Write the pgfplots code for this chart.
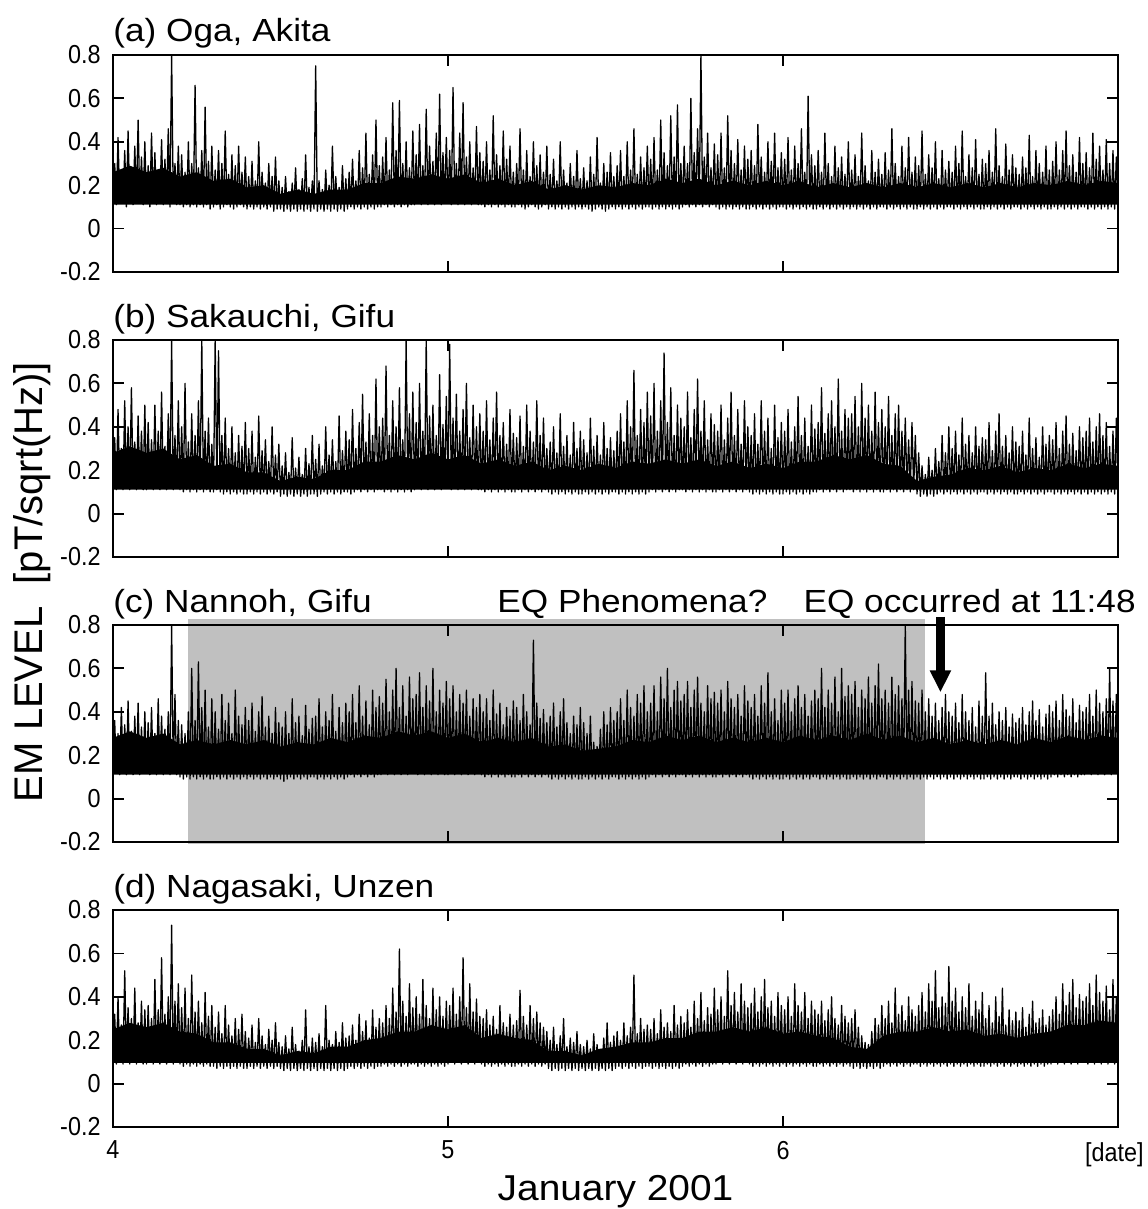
\documentclass[border=0pt]{standalone}
\usepackage{fontspec}
\setmainfont{Liberation Sans}
\usepackage{graphicx}
\usepackage{pgfplots}
\pgfplotsset{compat=1.18}
\usepackage{pgfplotstable}
\usetikzlibrary{arrows.meta}
\definecolor{shade}{RGB}{192,192,192}
\newcommand{\tl}[1]{\scalebox{0.9}[1]{#1}}

\pgfplotstableread[row sep=\\]{
y\\
0.12\\0.30\\0.11\\0.42\\0.13\\0.26\\0.12\\0.36\\0.10\\0.45\\0.12\\0.28\\0.11\\0.38\\0.13\\0.50\\0.12\\0.33\\0.11\\0.40\\
0.12\\0.29\\0.10\\0.44\\0.12\\0.35\\0.11\\0.27\\0.12\\0.41\\0.11\\0.32\\0.12\\0.46\\0.10\\0.80\\0.12\\0.30\\0.11\\0.38\\
0.11\\0.34\\0.10\\0.26\\0.11\\0.40\\0.10\\0.30\\0.11\\0.66\\0.10\\0.28\\0.11\\0.36\\0.10\\0.56\\0.11\\0.31\\0.09\\0.38\\
0.10\\0.27\\0.11\\0.36\\0.09\\0.30\\0.10\\0.45\\0.11\\0.25\\0.10\\0.34\\0.09\\0.29\\0.10\\0.38\\0.11\\0.26\\0.10\\0.33\\
0.09\\0.24\\0.10\\0.31\\0.09\\0.22\\0.10\\0.40\\0.09\\0.26\\0.10\\0.21\\0.09\\0.30\\0.10\\0.24\\0.08\\0.33\\0.09\\0.22\\
0.09\\0.19\\0.08\\0.24\\0.09\\0.17\\0.08\\0.21\\0.09\\0.28\\0.08\\0.18\\0.09\\0.23\\0.08\\0.34\\0.09\\0.19\\0.08\\0.22\\
0.09\\0.75\\0.08\\0.22\\0.09\\0.18\\0.08\\0.27\\0.09\\0.20\\0.08\\0.38\\0.09\\0.24\\0.08\\0.19\\0.09\\0.29\\0.08\\0.23\\
0.09\\0.26\\0.10\\0.32\\0.09\\0.22\\0.10\\0.36\\0.09\\0.28\\0.10\\0.44\\0.09\\0.25\\0.10\\0.34\\0.09\\0.50\\0.10\\0.29\\
0.10\\0.33\\0.11\\0.42\\0.10\\0.27\\0.11\\0.58\\0.10\\0.36\\0.11\\0.59\\0.10\\0.30\\0.11\\0.40\\0.10\\0.28\\0.11\\0.45\\
0.11\\0.34\\0.12\\0.48\\0.11\\0.29\\0.12\\0.55\\0.11\\0.38\\0.12\\0.31\\0.11\\0.44\\0.12\\0.62\\0.11\\0.35\\0.12\\0.42\\
0.12\\0.36\\0.11\\0.65\\0.12\\0.30\\0.11\\0.44\\0.12\\0.58\\0.11\\0.33\\0.12\\0.40\\0.11\\0.28\\0.12\\0.47\\0.11\\0.35\\
0.11\\0.31\\0.10\\0.40\\0.11\\0.27\\0.10\\0.52\\0.11\\0.34\\0.10\\0.29\\0.11\\0.45\\0.10\\0.32\\0.11\\0.38\\0.10\\0.26\\
0.10\\0.30\\0.11\\0.46\\0.10\\0.27\\0.09\\0.36\\0.10\\0.24\\0.11\\0.40\\0.10\\0.29\\0.09\\0.34\\0.10\\0.26\\0.11\\0.38\\
0.09\\0.25\\0.10\\0.32\\0.09\\0.22\\0.10\\0.40\\0.09\\0.27\\0.10\\0.21\\0.09\\0.30\\0.10\\0.24\\0.09\\0.36\\0.10\\0.23\\
0.09\\0.28\\0.10\\0.22\\0.09\\0.33\\0.08\\0.25\\0.09\\0.42\\0.10\\0.21\\0.09\\0.30\\0.08\\0.26\\0.09\\0.35\\0.10\\0.24\\
0.09\\0.29\\0.10\\0.36\\0.09\\0.24\\0.10\\0.40\\0.09\\0.27\\0.10\\0.46\\0.09\\0.25\\0.10\\0.33\\0.09\\0.28\\0.10\\0.38\\
0.10\\0.32\\0.09\\0.42\\0.10\\0.27\\0.09\\0.50\\0.10\\0.35\\0.09\\0.29\\0.10\\0.52\\0.09\\0.33\\0.10\\0.57\\0.09\\0.30\\
0.10\\0.38\\0.11\\0.30\\0.10\\0.60\\0.11\\0.35\\0.10\\0.46\\0.11\\0.80\\0.10\\0.33\\0.11\\0.44\\0.10\\0.28\\0.11\\0.39\\
0.10\\0.34\\0.09\\0.44\\0.10\\0.28\\0.09\\0.52\\0.10\\0.36\\0.09\\0.30\\0.10\\0.41\\0.09\\0.27\\0.10\\0.38\\0.09\\0.32\\
0.09\\0.36\\0.10\\0.29\\0.09\\0.48\\0.10\\0.33\\0.09\\0.26\\0.10\\0.40\\0.09\\0.31\\0.10\\0.44\\0.09\\0.28\\0.10\\0.35\\
0.10\\0.32\\0.09\\0.42\\0.10\\0.27\\0.09\\0.38\\0.10\\0.30\\0.09\\0.46\\0.10\\0.26\\0.09\\0.61\\0.10\\0.34\\0.09\\0.29\\
0.09\\0.36\\0.10\\0.26\\0.09\\0.44\\0.10\\0.30\\0.09\\0.24\\0.10\\0.38\\0.09\\0.28\\0.10\\0.33\\0.09\\0.25\\0.10\\0.40\\
0.09\\0.27\\0.10\\0.34\\0.09\\0.24\\0.10\\0.44\\0.09\\0.29\\0.10\\0.22\\0.09\\0.36\\0.10\\0.26\\0.09\\0.32\\0.10\\0.25\\
0.10\\0.35\\0.09\\0.27\\0.10\\0.46\\0.09\\0.30\\0.10\\0.24\\0.09\\0.38\\0.10\\0.28\\0.09\\0.42\\0.10\\0.26\\0.09\\0.33\\
0.09\\0.29\\0.10\\0.45\\0.09\\0.25\\0.10\\0.34\\0.09\\0.28\\0.10\\0.40\\0.09\\0.23\\0.10\\0.36\\0.09\\0.27\\0.10\\0.31\\
0.10\\0.26\\0.09\\0.38\\0.10\\0.30\\0.09\\0.45\\0.10\\0.24\\0.09\\0.34\\0.10\\0.28\\0.09\\0.41\\0.10\\0.25\\0.09\\0.32\\
0.09\\0.30\\0.10\\0.36\\0.09\\0.26\\0.10\\0.46\\0.09\\0.29\\0.10\\0.24\\0.09\\0.39\\0.10\\0.27\\0.09\\0.34\\0.10\\0.28\\
0.10\\0.25\\0.09\\0.33\\0.10\\0.28\\0.09\\0.43\\0.10\\0.24\\0.09\\0.36\\0.10\\0.30\\0.09\\0.26\\0.10\\0.38\\0.09\\0.27\\
0.09\\0.31\\0.10\\0.40\\0.09\\0.27\\0.10\\0.36\\0.09\\0.45\\0.10\\0.29\\0.09\\0.34\\0.10\\0.26\\0.09\\0.42\\0.10\\0.30\\
0.10\\0.35\\0.09\\0.28\\0.10\\0.44\\0.09\\0.32\\0.10\\0.38\\0.09\\0.27\\0.10\\0.41\\0.09\\0.30\\0.10\\0.36\\0.09\\0.33\\
0.11\\
}\dataA

\pgfplotstableread[row sep=\\]{
y\\
0.12\\0.35\\0.11\\0.48\\0.12\\0.30\\0.11\\0.52\\0.12\\0.40\\0.11\\0.58\\0.12\\0.33\\0.11\\0.45\\0.12\\0.38\\0.11\\0.50\\
0.11\\0.42\\0.12\\0.34\\0.11\\0.50\\0.12\\0.38\\0.11\\0.56\\0.12\\0.31\\0.11\\0.46\\0.12\\0.80\\0.11\\0.36\\0.12\\0.52\\
0.11\\0.40\\0.10\\0.60\\0.11\\0.33\\0.10\\0.46\\0.11\\0.36\\0.10\\0.52\\0.11\\0.80\\0.10\\0.38\\0.11\\0.44\\0.10\\0.32\\
0.10\\0.80\\0.11\\0.75\\0.10\\0.36\\0.09\\0.44\\0.10\\0.30\\0.09\\0.40\\0.10\\0.28\\0.09\\0.36\\0.10\\0.31\\0.09\\0.42\\
0.09\\0.30\\0.10\\0.38\\0.09\\0.26\\0.10\\0.45\\0.09\\0.29\\0.10\\0.34\\0.09\\0.24\\0.10\\0.40\\0.09\\0.27\\0.10\\0.32\\
0.08\\0.22\\0.09\\0.28\\0.08\\0.19\\0.09\\0.35\\0.08\\0.21\\0.09\\0.26\\0.08\\0.18\\0.09\\0.30\\0.08\\0.23\\0.09\\0.36\\
0.09\\0.25\\0.08\\0.32\\0.09\\0.22\\0.10\\0.40\\0.09\\0.27\\0.10\\0.34\\0.09\\0.24\\0.10\\0.45\\0.09\\0.29\\0.10\\0.38\\
0.10\\0.34\\0.09\\0.48\\0.10\\0.30\\0.11\\0.42\\0.10\\0.55\\0.11\\0.33\\0.10\\0.46\\0.11\\0.36\\0.10\\0.62\\0.11\\0.40\\
0.11\\0.44\\0.10\\0.68\\0.11\\0.36\\0.10\\0.52\\0.11\\0.40\\0.10\\0.58\\0.11\\0.34\\0.10\\0.80\\0.11\\0.46\\0.10\\0.56\\
0.11\\0.42\\0.12\\0.60\\0.11\\0.38\\0.12\\0.80\\0.11\\0.45\\0.12\\0.50\\0.11\\0.36\\0.12\\0.64\\0.11\\0.41\\0.12\\0.54\\
0.12\\0.78\\0.11\\0.44\\0.12\\0.55\\0.11\\0.38\\0.12\\0.48\\0.11\\0.60\\0.12\\0.35\\0.11\\0.50\\0.12\\0.40\\0.11\\0.46\\
0.11\\0.38\\0.10\\0.52\\0.11\\0.34\\0.10\\0.44\\0.11\\0.56\\0.10\\0.36\\0.11\\0.42\\0.10\\0.32\\0.11\\0.48\\0.10\\0.37\\
0.10\\0.35\\0.11\\0.45\\0.10\\0.31\\0.11\\0.50\\0.10\\0.38\\0.11\\0.33\\0.10\\0.52\\0.11\\0.36\\0.10\\0.44\\0.11\\0.30\\
0.10\\0.33\\0.09\\0.40\\0.10\\0.28\\0.09\\0.46\\0.10\\0.31\\0.09\\0.36\\0.10\\0.27\\0.09\\0.42\\0.10\\0.30\\0.09\\0.38\\
0.09\\0.34\\0.10\\0.28\\0.09\\0.44\\0.10\\0.31\\0.09\\0.36\\0.10\\0.27\\0.09\\0.42\\0.10\\0.30\\0.09\\0.35\\0.10\\0.29\\
0.10\\0.38\\0.09\\0.46\\0.10\\0.33\\0.09\\0.52\\0.10\\0.40\\0.09\\0.66\\0.10\\0.36\\0.09\\0.48\\0.10\\0.42\\0.09\\0.56\\
0.10\\0.45\\0.11\\0.60\\0.10\\0.38\\0.11\\0.52\\0.10\\0.74\\0.11\\0.42\\0.10\\0.58\\0.11\\0.36\\0.10\\0.50\\0.11\\0.44\\
0.11\\0.40\\0.10\\0.56\\0.11\\0.35\\0.10\\0.48\\0.11\\0.62\\0.10\\0.38\\0.11\\0.52\\0.10\\0.34\\0.11\\0.46\\0.10\\0.41\\
0.10\\0.38\\0.11\\0.50\\0.10\\0.34\\0.11\\0.44\\0.10\\0.56\\0.11\\0.36\\0.10\\0.48\\0.11\\0.32\\0.10\\0.52\\0.11\\0.40\\
0.10\\0.36\\0.09\\0.46\\0.10\\0.32\\0.09\\0.52\\0.10\\0.38\\0.09\\0.44\\0.10\\0.30\\0.09\\0.50\\0.10\\0.35\\0.09\\0.42\\
0.09\\0.38\\0.10\\0.48\\0.09\\0.33\\0.10\\0.40\\0.09\\0.54\\0.10\\0.36\\0.09\\0.44\\0.10\\0.31\\0.09\\0.50\\0.10\\0.39\\
0.10\\0.42\\0.11\\0.58\\0.10\\0.37\\0.11\\0.46\\0.10\\0.52\\0.11\\0.40\\0.10\\0.62\\0.11\\0.38\\0.10\\0.48\\0.11\\0.44\\
0.11\\0.46\\0.10\\0.54\\0.11\\0.40\\0.10\\0.60\\0.11\\0.44\\0.10\\0.50\\0.11\\0.38\\0.10\\0.56\\0.11\\0.42\\0.10\\0.48\\
0.10\\0.40\\0.11\\0.54\\0.10\\0.36\\0.11\\0.46\\0.10\\0.50\\0.11\\0.38\\0.10\\0.44\\0.11\\0.34\\0.10\\0.42\\0.11\\0.36\\
0.09\\0.28\\0.08\\0.22\\0.09\\0.18\\0.08\\0.26\\0.09\\0.20\\0.08\\0.30\\0.09\\0.24\\0.10\\0.36\\0.09\\0.28\\0.10\\0.40\\
0.09\\0.30\\0.10\\0.38\\0.09\\0.27\\0.10\\0.44\\0.09\\0.32\\0.10\\0.36\\0.09\\0.28\\0.10\\0.40\\0.09\\0.31\\0.10\\0.35\\
0.10\\0.34\\0.09\\0.42\\0.10\\0.29\\0.09\\0.38\\0.10\\0.46\\0.09\\0.31\\0.10\\0.36\\0.09\\0.28\\0.10\\0.40\\0.09\\0.33\\
0.09\\0.31\\0.10\\0.38\\0.09\\0.27\\0.10\\0.44\\0.09\\0.30\\0.10\\0.35\\0.09\\0.26\\0.10\\0.40\\0.09\\0.32\\0.10\\0.36\\
0.10\\0.34\\0.09\\0.42\\0.10\\0.30\\0.09\\0.38\\0.10\\0.45\\0.09\\0.32\\0.10\\0.37\\0.09\\0.29\\0.10\\0.40\\0.09\\0.35\\
0.10\\0.38\\0.09\\0.44\\0.10\\0.33\\0.09\\0.40\\0.10\\0.46\\0.09\\0.36\\0.10\\0.42\\0.09\\0.31\\0.10\\0.38\\0.09\\0.44\\
0.11\\
}\dataB

\pgfplotstableread[row sep=\\]{
y\\
0.11\\0.36\\0.12\\0.30\\0.11\\0.42\\0.12\\0.34\\0.11\\0.45\\0.12\\0.31\\0.11\\0.38\\0.12\\0.44\\0.11\\0.33\\0.12\\0.40\\
0.12\\0.35\\0.11\\0.42\\0.12\\0.30\\0.11\\0.46\\0.12\\0.38\\0.11\\0.32\\0.12\\0.40\\0.11\\0.80\\0.12\\0.48\\0.11\\0.36\\
0.10\\0.34\\0.09\\0.30\\0.10\\0.40\\0.09\\0.60\\0.10\\0.36\\0.09\\0.63\\0.10\\0.42\\0.09\\0.50\\0.10\\0.33\\0.09\\0.46\\
0.09\\0.40\\0.10\\0.32\\0.09\\0.48\\0.10\\0.36\\0.09\\0.44\\0.10\\0.30\\0.09\\0.50\\0.10\\0.38\\0.09\\0.34\\0.10\\0.42\\
0.09\\0.36\\0.10\\0.44\\0.09\\0.31\\0.10\\0.40\\0.09\\0.47\\0.10\\0.33\\0.09\\0.38\\0.10\\0.30\\0.09\\0.42\\0.10\\0.35\\
0.09\\0.33\\0.08\\0.40\\0.09\\0.30\\0.10\\0.46\\0.09\\0.35\\0.10\\0.38\\0.09\\0.29\\0.10\\0.43\\0.09\\0.32\\0.10\\0.37\\
0.10\\0.38\\0.09\\0.46\\0.10\\0.33\\0.09\\0.40\\0.10\\0.36\\0.09\\0.48\\0.10\\0.31\\0.09\\0.42\\0.10\\0.35\\0.09\\0.44\\
0.10\\0.40\\0.11\\0.48\\0.10\\0.35\\0.11\\0.52\\0.10\\0.38\\0.11\\0.45\\0.10\\0.34\\0.11\\0.50\\0.10\\0.42\\0.11\\0.47\\
0.11\\0.44\\0.12\\0.55\\0.11\\0.40\\0.12\\0.50\\0.11\\0.60\\0.12\\0.42\\0.11\\0.52\\0.12\\0.38\\0.11\\0.56\\0.12\\0.46\\
0.12\\0.48\\0.11\\0.58\\0.12\\0.42\\0.11\\0.52\\0.12\\0.45\\0.11\\0.60\\0.12\\0.40\\0.11\\0.50\\0.12\\0.44\\0.11\\0.54\\
0.11\\0.46\\0.12\\0.52\\0.11\\0.40\\0.12\\0.48\\0.11\\0.44\\0.12\\0.50\\0.11\\0.38\\0.12\\0.46\\0.11\\0.42\\0.12\\0.48\\
0.11\\0.40\\0.10\\0.46\\0.11\\0.36\\0.10\\0.50\\0.11\\0.39\\0.10\\0.44\\0.11\\0.34\\0.10\\0.42\\0.11\\0.38\\0.10\\0.45\\
0.10\\0.42\\0.11\\0.36\\0.10\\0.48\\0.11\\0.40\\0.10\\0.34\\0.11\\0.73\\0.10\\0.44\\0.11\\0.37\\0.10\\0.41\\0.11\\0.35\\
0.10\\0.38\\0.09\\0.44\\0.10\\0.33\\0.09\\0.40\\0.10\\0.46\\0.09\\0.35\\0.10\\0.30\\0.09\\0.38\\0.10\\0.34\\0.09\\0.42\\
0.09\\0.35\\0.10\\0.30\\0.09\\0.38\\0.10\\0.26\\0.09\\0.24\\0.10\\0.32\\0.09\\0.40\\0.10\\0.34\\0.09\\0.42\\0.10\\0.36\\
0.10\\0.40\\0.09\\0.46\\0.10\\0.36\\0.09\\0.50\\0.10\\0.42\\0.09\\0.38\\0.10\\0.48\\0.09\\0.44\\0.10\\0.52\\0.09\\0.40\\
0.10\\0.44\\0.11\\0.52\\0.10\\0.40\\0.11\\0.56\\0.10\\0.46\\0.11\\0.60\\0.10\\0.42\\0.11\\0.50\\0.10\\0.54\\0.11\\0.45\\
0.11\\0.48\\0.10\\0.54\\0.11\\0.42\\0.10\\0.50\\0.11\\0.56\\0.10\\0.44\\0.11\\0.40\\0.10\\0.52\\0.11\\0.46\\0.10\\0.49\\
0.10\\0.44\\0.11\\0.50\\0.10\\0.40\\0.11\\0.54\\0.10\\0.46\\0.11\\0.42\\0.10\\0.48\\0.11\\0.38\\0.10\\0.52\\0.11\\0.45\\
0.10\\0.42\\0.09\\0.48\\0.10\\0.38\\0.09\\0.52\\0.10\\0.44\\0.09\\0.58\\0.10\\0.40\\0.09\\0.46\\0.10\\0.36\\0.09\\0.50\\
0.09\\0.44\\0.10\\0.50\\0.09\\0.40\\0.10\\0.46\\0.09\\0.52\\0.10\\0.42\\0.09\\0.48\\0.10\\0.38\\0.09\\0.45\\0.10\\0.50\\
0.10\\0.46\\0.09\\0.60\\0.10\\0.42\\0.09\\0.50\\0.10\\0.44\\0.09\\0.56\\0.10\\0.40\\0.09\\0.60\\0.10\\0.47\\0.09\\0.52\\
0.09\\0.48\\0.10\\0.54\\0.09\\0.42\\0.10\\0.50\\0.09\\0.46\\0.10\\0.56\\0.09\\0.44\\0.10\\0.52\\0.09\\0.62\\0.10\\0.46\\
0.10\\0.50\\0.09\\0.44\\0.10\\0.56\\0.09\\0.48\\0.10\\0.52\\0.09\\0.46\\0.10\\0.80\\0.09\\0.50\\0.10\\0.54\\0.09\\0.45\\
0.10\\0.44\\0.09\\0.50\\0.10\\0.40\\0.09\\0.46\\0.10\\0.38\\0.09\\0.44\\0.10\\0.36\\0.09\\0.42\\0.10\\0.48\\0.09\\0.40\\
0.10\\0.38\\0.09\\0.44\\0.10\\0.35\\0.09\\0.48\\0.10\\0.40\\0.09\\0.36\\0.10\\0.42\\0.09\\0.33\\0.10\\0.45\\0.09\\0.38\\
0.09\\0.58\\0.10\\0.38\\0.09\\0.44\\0.10\\0.34\\0.09\\0.40\\0.10\\0.36\\0.09\\0.42\\0.10\\0.33\\0.09\\0.39\\0.10\\0.35\\
0.10\\0.37\\0.09\\0.42\\0.10\\0.34\\0.09\\0.40\\0.10\\0.45\\0.09\\0.36\\0.10\\0.41\\0.09\\0.33\\0.10\\0.39\\0.09\\0.43\\
0.10\\0.40\\0.11\\0.45\\0.10\\0.36\\0.11\\0.48\\0.10\\0.41\\0.11\\0.38\\0.10\\0.46\\0.11\\0.35\\0.10\\0.43\\0.11\\0.40\\
0.11\\0.42\\0.12\\0.48\\0.11\\0.38\\0.12\\0.50\\0.11\\0.44\\0.12\\0.40\\0.11\\0.46\\0.12\\0.60\\0.11\\0.45\\0.12\\0.48\\
0.12\\
}\dataC

\pgfplotstableread[row sep=\\]{
y\\
0.10\\0.32\\0.09\\0.40\\0.10\\0.27\\0.09\\0.52\\0.10\\0.35\\0.09\\0.30\\0.10\\0.44\\0.09\\0.28\\0.10\\0.38\\0.09\\0.34\\
0.09\\0.36\\0.10\\0.30\\0.09\\0.48\\0.10\\0.34\\0.09\\0.58\\0.10\\0.32\\0.09\\0.40\\0.10\\0.73\\0.09\\0.38\\0.10\\0.46\\
0.09\\0.35\\0.08\\0.44\\0.09\\0.30\\0.08\\0.50\\0.09\\0.33\\0.08\\0.38\\0.09\\0.28\\0.08\\0.42\\0.09\\0.31\\0.08\\0.36\\
0.08\\0.26\\0.07\\0.33\\0.08\\0.23\\0.07\\0.36\\0.08\\0.27\\0.07\\0.22\\0.08\\0.30\\0.07\\0.25\\0.08\\0.32\\0.07\\0.24\\
0.07\\0.21\\0.08\\0.27\\0.07\\0.19\\0.08\\0.30\\0.07\\0.22\\0.08\\0.18\\0.07\\0.25\\0.08\\0.20\\0.07\\0.28\\0.08\\0.19\\
0.07\\0.17\\0.06\\0.22\\0.07\\0.16\\0.06\\0.26\\0.07\\0.18\\0.06\\0.15\\0.07\\0.20\\0.06\\0.34\\0.07\\0.17\\0.06\\0.21\\
0.07\\0.19\\0.06\\0.23\\0.07\\0.17\\0.06\\0.36\\0.07\\0.20\\0.06\\0.18\\0.07\\0.24\\0.06\\0.19\\0.07\\0.28\\0.06\\0.21\\
0.07\\0.22\\0.08\\0.27\\0.07\\0.20\\0.08\\0.32\\0.07\\0.24\\0.08\\0.29\\0.07\\0.21\\0.08\\0.34\\0.07\\0.26\\0.08\\0.30\\
0.08\\0.28\\0.09\\0.36\\0.08\\0.30\\0.09\\0.44\\0.08\\0.33\\0.09\\0.62\\0.08\\0.38\\0.09\\0.31\\0.08\\0.46\\0.09\\0.35\\
0.09\\0.40\\0.08\\0.32\\0.09\\0.48\\0.08\\0.36\\0.09\\0.30\\0.08\\0.44\\0.09\\0.34\\0.08\\0.40\\0.09\\0.31\\0.08\\0.38\\
0.09\\0.36\\0.10\\0.44\\0.09\\0.32\\0.10\\0.40\\0.09\\0.58\\0.10\\0.35\\0.09\\0.46\\0.10\\0.33\\0.09\\0.39\\0.10\\0.31\\
0.09\\0.30\\0.08\\0.34\\0.09\\0.27\\0.08\\0.31\\0.09\\0.25\\0.08\\0.36\\0.09\\0.28\\0.08\\0.26\\0.09\\0.32\\0.08\\0.27\\
0.08\\0.29\\0.09\\0.43\\0.08\\0.31\\0.09\\0.27\\0.08\\0.36\\0.09\\0.30\\0.08\\0.33\\0.09\\0.28\\0.08\\0.26\\0.09\\0.24\\
0.07\\0.20\\0.06\\0.26\\0.07\\0.18\\0.06\\0.22\\0.07\\0.30\\0.06\\0.17\\0.07\\0.21\\0.06\\0.19\\0.07\\0.24\\0.06\\0.18\\
0.07\\0.17\\0.06\\0.20\\0.07\\0.16\\0.06\\0.23\\0.07\\0.18\\0.06\\0.15\\0.07\\0.21\\0.06\\0.28\\0.07\\0.19\\0.06\\0.22\\
0.07\\0.24\\0.08\\0.20\\0.07\\0.28\\0.08\\0.22\\0.07\\0.26\\0.08\\0.50\\0.07\\0.23\\0.08\\0.30\\0.07\\0.25\\0.08\\0.27\\
0.08\\0.25\\0.07\\0.30\\0.08\\0.23\\0.07\\0.34\\0.08\\0.26\\0.07\\0.28\\0.08\\0.24\\0.07\\0.36\\0.08\\0.27\\0.07\\0.31\\
0.08\\0.28\\0.09\\0.34\\0.08\\0.26\\0.09\\0.38\\0.08\\0.30\\0.09\\0.42\\0.08\\0.29\\0.09\\0.35\\0.08\\0.32\\0.09\\0.44\\
0.09\\0.34\\0.10\\0.40\\0.09\\0.31\\0.10\\0.52\\0.09\\0.36\\0.10\\0.42\\0.09\\0.33\\0.10\\0.46\\0.09\\0.38\\0.10\\0.35\\
0.09\\0.37\\0.08\\0.44\\0.09\\0.33\\0.08\\0.40\\0.09\\0.48\\0.08\\0.35\\0.09\\0.38\\0.08\\0.31\\0.09\\0.42\\0.08\\0.36\\
0.09\\0.34\\0.08\\0.40\\0.09\\0.31\\0.08\\0.46\\0.09\\0.36\\0.08\\0.33\\0.09\\0.42\\0.08\\0.30\\0.09\\0.38\\0.08\\0.34\\
0.08\\0.32\\0.09\\0.38\\0.08\\0.29\\0.09\\0.34\\0.08\\0.40\\0.09\\0.30\\0.08\\0.27\\0.09\\0.36\\0.08\\0.31\\0.09\\0.28\\
0.08\\0.30\\0.07\\0.34\\0.08\\0.26\\0.07\\0.22\\0.08\\0.19\\0.07\\0.18\\0.08\\0.24\\0.07\\0.30\\0.08\\0.27\\0.07\\0.36\\
0.08\\0.30\\0.09\\0.38\\0.08\\0.28\\0.09\\0.44\\0.08\\0.32\\0.09\\0.36\\0.08\\0.29\\0.09\\0.40\\0.08\\0.34\\0.09\\0.31\\
0.09\\0.36\\0.08\\0.42\\0.09\\0.33\\0.08\\0.46\\0.09\\0.38\\0.08\\0.52\\0.09\\0.35\\0.08\\0.40\\0.09\\0.37\\0.08\\0.54\\
0.09\\0.38\\0.08\\0.44\\0.09\\0.33\\0.08\\0.40\\0.09\\0.35\\0.08\\0.46\\0.09\\0.31\\0.08\\0.38\\0.09\\0.34\\0.08\\0.42\\
0.08\\0.30\\0.09\\0.36\\0.08\\0.28\\0.09\\0.40\\0.08\\0.31\\0.09\\0.44\\0.08\\0.27\\0.09\\0.34\\0.08\\0.29\\0.09\\0.33\\
0.08\\0.29\\0.09\\0.35\\0.08\\0.26\\0.09\\0.32\\0.08\\0.38\\0.09\\0.28\\0.08\\0.30\\0.09\\0.34\\0.08\\0.27\\0.09\\0.31\\
0.09\\0.34\\0.10\\0.40\\0.09\\0.32\\0.10\\0.46\\0.09\\0.36\\0.10\\0.42\\0.09\\0.48\\0.10\\0.35\\0.09\\0.41\\0.10\\0.38\\
0.10\\0.40\\0.09\\0.46\\0.10\\0.36\\0.09\\0.50\\0.10\\0.42\\0.09\\0.38\\0.10\\0.45\\0.09\\0.34\\0.10\\0.48\\0.09\\0.40\\
0.10\\
}\dataD

\pgfplotsset{
  panel/.style={
    scale only axis, width=502.5pt, height=108.5pt,
    anchor=south west,
    xmin=4, xmax=7, ymin=-0.2, ymax=0.8,
    xtick={4,5,6,7}, xticklabels={},
    ytick={-0.2,0,0.2,0.4,0.6,0.8},
    yticklabels={\tl{-0.2},\tl{0},\tl{0.2},\tl{0.4},\tl{0.6},\tl{0.8}},
    tick align=inside, major tick length=5.5pt,
    axis line style={line width=1pt},
    tick style={black, line width=0.9pt},
    tick label style={font=\fontsize{13}{15}\selectfont},
    yticklabel style={xshift=-2.7pt},
    xticklabel style={yshift=-3.4pt},
    axis on top,
  },
  sig/.style={black, line width=0.65pt, line join=round, mark=none},
  core/.style={fill=black, draw=none, mark=none},
}
\tikzset{ttl/.style={anchor=base west, inner sep=0pt, font=\fontsize{16}{19}\selectfont}}

\begin{document}
\begin{tikzpicture}
\path (0pt,0pt) rectangle (573.5pt,-604.5pt);

% (a)
\begin{axis}[panel, at={(56.5pt,-136pt)}]
\addplot[core] coordinates {(4,0.26)(4.05,0.29)(4.1,0.26)(4.15,0.28)(4.2,0.24)(4.25,0.26)(4.3,0.22)(4.35,0.23)(4.4,0.19)(4.45,0.20)(4.5,0.16)(4.55,0.18)(4.6,0.16)(4.65,0.18)(4.7,0.18)(4.75,0.21)(4.8,0.21)(4.85,0.24)(4.9,0.23)(4.95,0.25)(5,0.23)(5.05,0.25)(5.1,0.21)(5.15,0.23)(5.2,0.20)(5.25,0.22)(5.3,0.18)(5.35,0.20)(5.4,0.18)(5.45,0.20)(5.5,0.19)(5.55,0.21)(5.6,0.20)(5.65,0.23)(5.7,0.21)(5.75,0.23)(5.8,0.20)(5.85,0.22)(5.9,0.20)(5.95,0.22)(6,0.20)(6.05,0.22)(6.1,0.19)(6.15,0.21)(6.2,0.19)(6.25,0.21)(6.3,0.19)(6.35,0.21)(6.4,0.19)(6.45,0.21)(6.5,0.19)(6.55,0.21)(6.6,0.19)(6.65,0.21)(6.7,0.19)(6.75,0.21)(6.8,0.20)(6.85,0.22)(6.9,0.20)(6.95,0.22)(7,0.21)(7,0.11)(4,0.11)};
\addplot[sig] table[x expr=4+0.005*\coordindex, y=y] {\dataA};
\end{axis}

% (b)
\begin{axis}[panel, at={(56.5pt,-278.5pt)}]
\addplot[core] coordinates {(4,0.28)(4.05,0.31)(4.1,0.28)(4.15,0.30)(4.2,0.25)(4.25,0.27)(4.3,0.22)(4.35,0.23)(4.4,0.19)(4.45,0.19)(4.5,0.15)(4.55,0.17)(4.6,0.16)(4.65,0.20)(4.7,0.20)(4.75,0.24)(4.8,0.24)(4.85,0.27)(4.9,0.25)(4.95,0.28)(5,0.25)(5.05,0.27)(5.1,0.23)(5.15,0.25)(5.2,0.22)(5.25,0.24)(5.3,0.20)(5.35,0.22)(5.4,0.20)(5.45,0.23)(5.5,0.21)(5.55,0.24)(5.6,0.23)(5.65,0.25)(5.7,0.23)(5.75,0.25)(5.8,0.22)(5.85,0.24)(5.9,0.21)(5.95,0.23)(6,0.21)(6.05,0.24)(6.1,0.24)(6.15,0.27)(6.2,0.25)(6.25,0.27)(6.3,0.23)(6.35,0.22)(6.4,0.15)(6.45,0.17)(6.5,0.18)(6.55,0.21)(6.6,0.20)(6.65,0.22)(6.7,0.19)(6.75,0.21)(6.8,0.20)(6.85,0.23)(6.9,0.21)(6.95,0.23)(7,0.22)(7,0.11)(4,0.11)};
\addplot[sig] table[x expr=4+0.005*\coordindex, y=y] {\dataB};
\end{axis}

% (c)
\begin{axis}[panel, at={(56.5pt,-421pt)}, clip=false]
\addplot[fill=shade, draw=none, mark=none] coordinates {(4.223,-0.21)(6.424,-0.21)(6.424,0.828)(4.223,0.828)};
\addplot[core] coordinates {(4,0.28)(4.05,0.31)(4.1,0.28)(4.15,0.30)(4.2,0.25)(4.25,0.27)(4.3,0.25)(4.35,0.27)(4.4,0.25)(4.45,0.27)(4.5,0.24)(4.55,0.26)(4.6,0.25)(4.65,0.28)(4.7,0.26)(4.75,0.29)(4.8,0.28)(4.85,0.31)(4.9,0.29)(4.95,0.31)(5,0.28)(5.05,0.30)(5.1,0.26)(5.15,0.28)(5.2,0.26)(5.25,0.28)(5.3,0.24)(5.35,0.25)(5.4,0.22)(5.45,0.23)(5.5,0.24)(5.55,0.27)(5.6,0.26)(5.65,0.29)(5.7,0.27)(5.75,0.29)(5.8,0.26)(5.85,0.28)(5.9,0.26)(5.95,0.28)(6,0.26)(6.05,0.29)(6.1,0.27)(6.15,0.29)(6.2,0.27)(6.25,0.30)(6.3,0.27)(6.35,0.29)(6.4,0.26)(6.45,0.28)(6.5,0.25)(6.55,0.27)(6.6,0.25)(6.65,0.27)(6.7,0.25)(6.75,0.28)(6.8,0.26)(6.85,0.29)(6.9,0.27)(6.95,0.29)(7,0.28)(7,0.11)(4,0.11)};
\addplot[sig] table[x expr=4+0.005*\coordindex, y=y] {\dataC};
\draw[line width=4.6pt, -{Triangle[length=11pt, width=10pt]}] (axis cs:6.47,0.837) -- (axis cs:6.47,0.49);
\end{axis}

% (d)
\begin{axis}[panel, at={(56.5pt,-563.5pt)}, xticklabels={\tl{4},\tl{5},\tl{6},}]
\addplot[core] coordinates {(4,0.25)(4.05,0.28)(4.1,0.26)(4.15,0.28)(4.2,0.24)(4.25,0.23)(4.3,0.19)(4.35,0.19)(4.4,0.16)(4.45,0.16)(4.5,0.13)(4.55,0.15)(4.6,0.14)(4.65,0.17)(4.7,0.17)(4.75,0.20)(4.8,0.21)(4.85,0.24)(4.9,0.24)(4.95,0.27)(5,0.25)(5.05,0.27)(5.1,0.21)(5.15,0.23)(5.2,0.21)(5.25,0.20)(5.3,0.15)(5.35,0.15)(5.4,0.13)(5.45,0.16)(5.5,0.17)(5.55,0.19)(5.6,0.19)(5.65,0.21)(5.7,0.21)(5.75,0.24)(5.8,0.24)(5.85,0.26)(5.9,0.24)(5.95,0.26)(6,0.23)(6.05,0.24)(6.1,0.22)(6.15,0.21)(6.2,0.17)(6.25,0.16)(6.3,0.22)(6.35,0.24)(6.4,0.24)(6.45,0.26)(6.5,0.24)(6.55,0.25)(6.6,0.22)(6.65,0.23)(6.7,0.21)(6.75,0.23)(6.8,0.24)(6.85,0.27)(6.9,0.27)(6.95,0.29)(7,0.28)(7,0.095)(4,0.095)};
\addplot[sig] table[x expr=4+0.005*\coordindex, y=y] {\dataD};
\end{axis}

% titles and labels
\node[ttl] at (56.5pt,-21pt) {\scalebox{1.1}[1]{(a) Oga, Akita}};
\node[ttl] at (56.5pt,-163.5pt) {\scalebox{1.1}[1]{(b) Sakauchi, Gifu}};
\node[ttl] at (56.5pt,-306pt) {\scalebox{1.1}[1]{(c) Nannoh, Gifu}};
\node[ttl] at (56.5pt,-448.5pt) {\scalebox{1.1}[1]{(d) Nagasaki, Unzen}};
\node[ttl] at (248.5pt,-306pt) {\scalebox{1.1}[1]{EQ Phenomena?}};
\node[ttl, anchor=base east] at (568pt,-306pt) {\scalebox{1.1}[1]{EQ occurred at 11:48}};
\node[anchor=base, inner sep=0pt, font=\fontsize{18}{22}\selectfont] at (307.75pt,-600pt) {\scalebox{1.08}[1]{January 2001}};
\node[anchor=base east, inner sep=0pt, font=\fontsize{13}{15}\selectfont] at (572pt,-580.5pt) {\tl{[date]}};
\node[rotate=90, anchor=base, inner sep=0pt, font=\fontsize{20}{24}\selectfont] at (21pt,-291pt) {EM LEVEL~~[pT/sqrt(Hz)]};
\end{tikzpicture}
\end{document}
